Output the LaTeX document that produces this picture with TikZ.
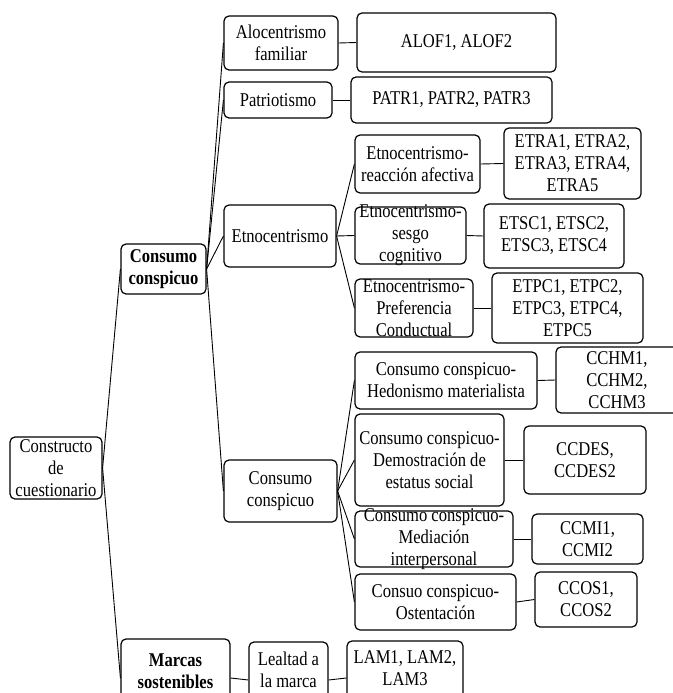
\documentclass[tikz,border=0pt]{standalone}
\usepackage{fontspec}
\setmainfont{Liberation Serif}[FakeStretch=0.85]
\usepackage{tikz}
\usetikzlibrary{positioning}

\begin{document}
\begin{tikzpicture}[
    x=1pt, y=-1pt,
    box/.style={draw, rounded corners=5pt, line width=1.2pt, align=center,
                inner sep=0pt, font=\fontsize{19.5}{22}\selectfont},
    head/.style={box, font=\fontsize{19.5}{22}\selectfont\bfseries},
    lbl/.style={align=center, inner sep=0pt, font=\fontsize{19.5}{22}\selectfont},
    link/.style={line width=0.9pt}
]
    \useasboundingbox (0,0) rectangle (672,693);

    % root and main branches
    \node[box, minimum width=92, minimum height=62] (root) at (56,468) {Constructo\\de\\cuestionario};
    \node[head, minimum width=85, minimum height=50] (cons) at (163.5,269) {Consumo\\conspicuo};
    \node[box, minimum width=109, minimum height=78,
          label={[lbl, font=\fontsize{19.5}{22}\selectfont\bfseries, yshift=7pt, name=marc-t]center:{Marcas\\sostenibles}}]
          (marc) at (175.5,678) {};

    % second level
    \node[box, minimum width=114, minimum height=54] (alo) at (281,43) {Alocentrismo\\familiar};
    \node[box, minimum width=108, minimum height=36] (pat) at (278,100) {Patriotismo};
    \node[box, minimum width=112, minimum height=62] (etn) at (280,236) {Etnocentrismo};
    \node[box, minimum width=113, minimum height=62] (ccs) at (280.5,491) {Consumo\\conspicuo};
    \node[box, minimum width=79, minimum height=76,
          label={[lbl, yshift=10pt, name=leal-t]center:{Lealtad a\\la marca}}]
          (leal) at (288.5,680) {};

    % etnocentrismo dimensions
    \node[box, minimum width=125, minimum height=58] (etra) at (417.5,164) {Etnocentrismo-\\reacción afectiva};
    \node[box, minimum width=111, minimum height=57,
          label={[lbl, name=etsc-t]center:{Etnocentrismo-\\sesgo\\cognitivo}}] (etsc) at (410.5,235.5) {};
    \node[box, minimum width=118, minimum height=58,
          label={[lbl, name=etpc-t]center:{Etnocentrismo-\\Preferencia\\Conductual}}] (etpc) at (414,308) {};

    % consumo conspicuo dimensions
    \node[box, minimum width=182, minimum height=57] (cchm) at (446,380.5) {Consumo conspicuo-\\Hedonismo materialista};
    \node[box, minimum width=149, minimum height=92] (ccdes) at (429.5,460) {Consumo conspicuo-\\Demostración de\\estatus social};
    \node[box, minimum width=158, minimum height=56,
          label={[lbl, name=ccmi-t]center:{Consumo conspicuo-\\Mediación\\interpersonal}}] (ccmi) at (434,539) {};
    \node[box, minimum width=161, minimum height=56] (ccos) at (435.5,602) {Consuo conspicuo-\\Ostentación};

    % items
    \node[box, minimum width=199, minimum height=59] (alofit) at (456.5,42.5) {ALOF1, ALOF2};
    \node[box, minimum width=201, minimum height=46] (patrit) at (451.5,100) {PATR1, PATR2, PATR3};
    \node[box, minimum width=137, minimum height=71] (etrait) at (572.5,163.5) {ETRA1, ETRA2,\\ETRA3, ETRA4,\\ETRA5};
    \node[box, minimum width=140, minimum height=64] (etscit) at (554,236) {ETSC1, ETSC2,\\ETSC3, ETSC4};
    \node[box, minimum width=151, minimum height=70] (etpcit) at (567.5,308) {ETPC1, ETPC2,\\ETPC3, ETPC4,\\ETPC5};
    \node[box, minimum width=122, minimum height=66] (cchmit) at (617,380) {CCHM1,\\CCHM2,\\CCHM3};
    \node[box, minimum width=122, minimum height=68] (ccdesit) at (585,460) {CCDES,\\CCDES2};
    \node[box, minimum width=111, minimum height=50] (ccmiit) at (587.5,539) {CCMI1,\\CCMI2};
    \node[box, minimum width=102, minimum height=55] (ccosit) at (586,599.5) {CCOS1,\\CCOS2};
    \node[box, minimum width=116, minimum height=74,
          label={[lbl, yshift=10pt, name=lamit-t]center:{LAM1, LAM2,\\LAM3}}]
          (lamit) at (405,678) {};

    % connectors
    \draw[link] (root.east) -- (cons.west);
    \draw[link] (root.east) -- (marc.west);
    \draw[link] (cons.east) -- (alo.west);
    \draw[link] (cons.east) -- (pat.west);
    \draw[link] (cons.east) -- (etn.west);
    \draw[link] (cons.east) -- (ccs.west);
    \draw[link] (etn.east) -- (etra.west);
    \draw[link] (etn.east) -- (etsc.west);
    \draw[link] (etn.east) -- (etpc.west);
    \draw[link] (ccs.east) -- (cchm.west);
    \draw[link] (ccs.east) -- (ccdes.west);
    \draw[link] (ccs.east) -- (ccmi.west);
    \draw[link] (ccs.east) -- (ccos.west);
    \draw[link] (marc.east) -- (leal.west);
    \draw[link] (leal.east) -- (lamit.west);
    \draw[link] (alo.east) -- (alofit.west);
    \draw[link] (pat.east) -- (patrit.west);
    \draw[link] (etra.east) -- (etrait.west);
    \draw[link] (etsc.east) -- (etscit.west);
    \draw[link] (etpc.east) -- (etpcit.west);
    \draw[link] (cchm.east) -- (cchmit.west);
    \draw[link] (ccdes.east) -- (ccdesit.west);
    \draw[link] (ccmi.east) -- (ccmiit.west);
    \draw[link] (ccos.east) -- (ccosit.west);
\end{tikzpicture}
\end{document}
